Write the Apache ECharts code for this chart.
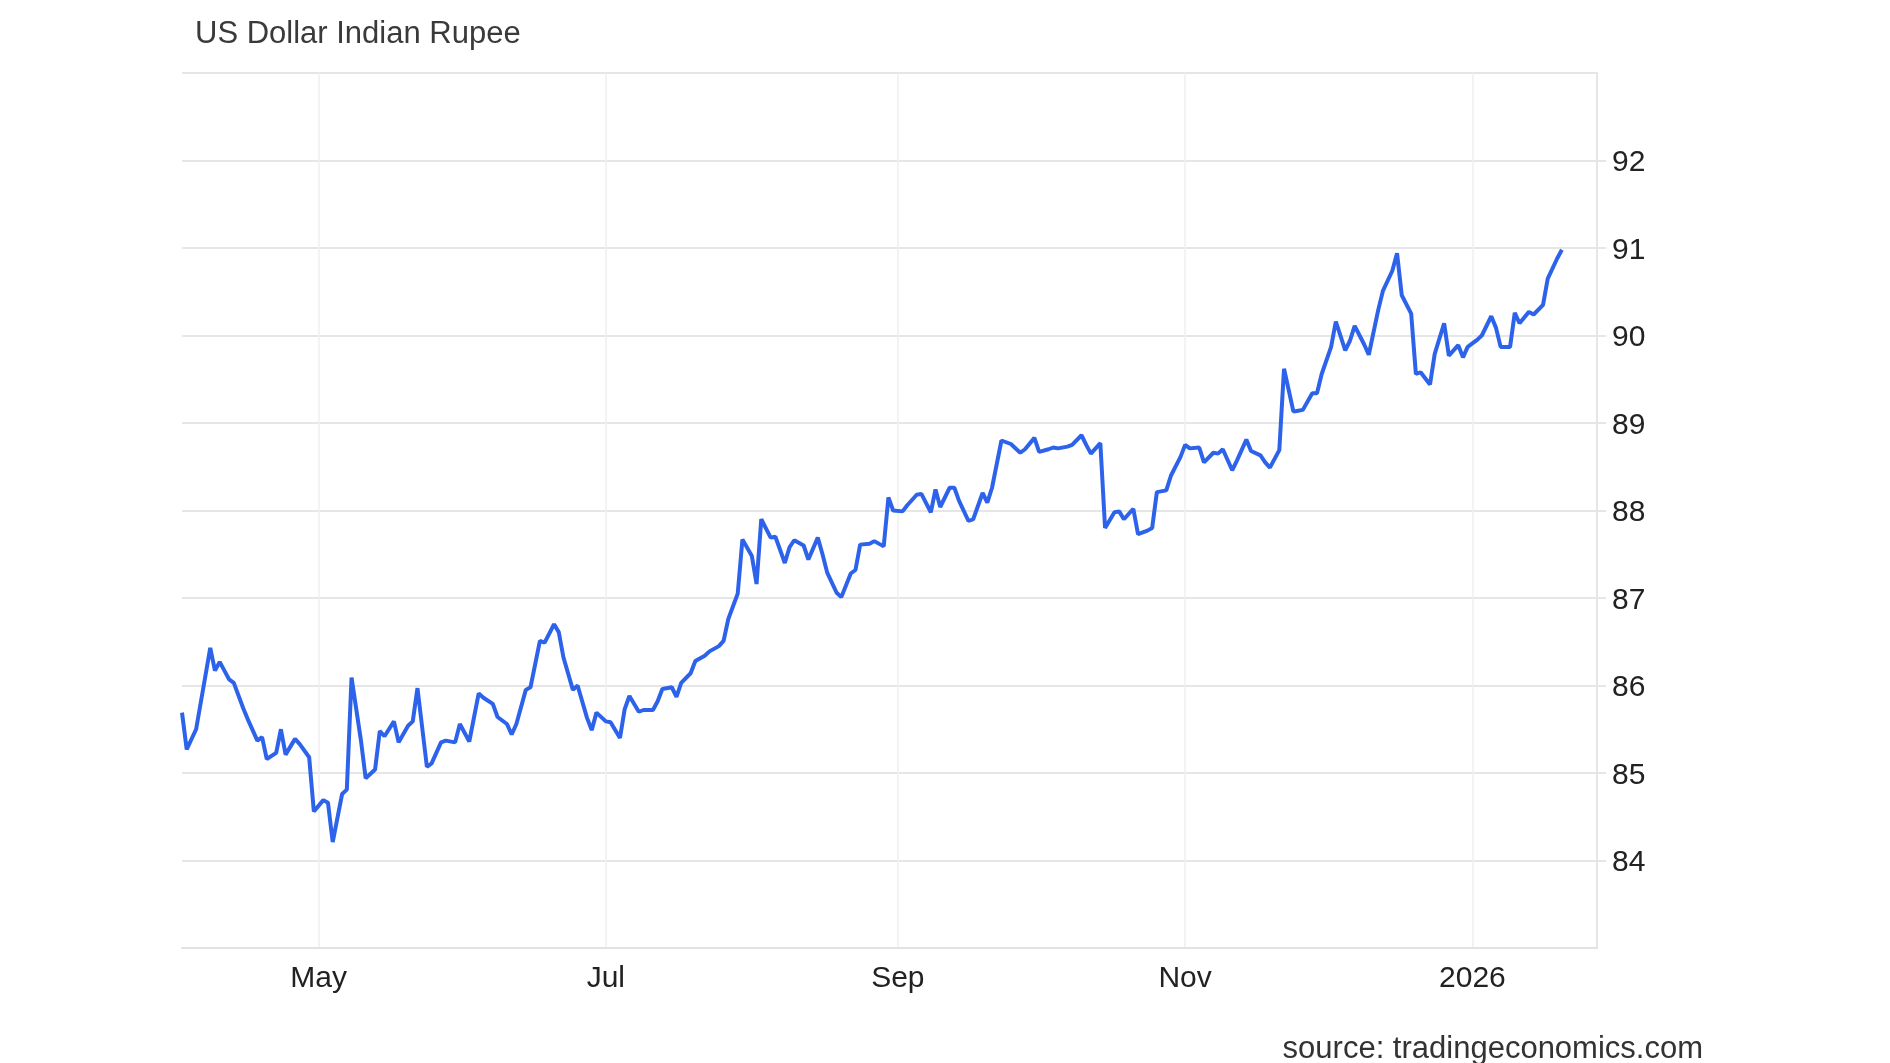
<!DOCTYPE html>
<html>
<head>
<meta charset="utf-8">
<style>
  html, body { margin: 0; padding: 0; background: #ffffff; }
  #chart { width: 1890px; height: 1063px; }
</style>
<script src="https://cdn.jsdelivr.net/npm/echarts@6/dist/echarts.min.js"></script>
</head>
<body>
<div id="chart"></div>
<script>
const titleText = 'US Dollar Indian Rupee';
const sourceText = 'source: tradingeconomics.com';

const dates = [
'2025-04-02','2025-04-03','2025-04-05','2025-04-08','2025-04-09','2025-04-10','2025-04-12','2025-04-13','2025-04-15','2025-04-16','2025-04-18','2025-04-19','2025-04-20','2025-04-22','2025-04-23','2025-04-24','2025-04-26','2025-04-27','2025-04-29','2025-04-30',
'2025-05-02','2025-05-03','2025-05-04','2025-05-06','2025-05-07','2025-05-08','2025-05-10','2025-05-11','2025-05-13','2025-05-14','2025-05-15','2025-05-17','2025-05-18','2025-05-20','2025-05-21','2025-05-22','2025-05-24','2025-05-25','2025-05-27','2025-05-28','2025-05-30','2025-05-31',
'2025-06-02','2025-06-04','2025-06-05','2025-06-07','2025-06-08','2025-06-10','2025-06-11','2025-06-12','2025-06-14','2025-06-15','2025-06-17','2025-06-18','2025-06-20','2025-06-21','2025-06-22','2025-06-24','2025-06-25','2025-06-27','2025-06-28','2025-06-29',
'2025-07-01','2025-07-02','2025-07-04','2025-07-05','2025-07-06','2025-07-08','2025-07-09','2025-07-11','2025-07-12','2025-07-13','2025-07-15','2025-07-16','2025-07-17','2025-07-19','2025-07-20','2025-07-22','2025-07-23','2025-07-25','2025-07-26','2025-07-27','2025-07-29','2025-07-30',
'2025-08-01','2025-08-02','2025-08-03','2025-08-05','2025-08-06','2025-08-08','2025-08-09','2025-08-10','2025-08-12','2025-08-13','2025-08-15','2025-08-16','2025-08-17','2025-08-19','2025-08-20','2025-08-22','2025-08-23','2025-08-24','2025-08-26','2025-08-27','2025-08-29','2025-08-30','2025-08-31',
'2025-09-02','2025-09-03','2025-09-05','2025-09-06','2025-09-08','2025-09-09','2025-09-10','2025-09-12','2025-09-13','2025-09-14','2025-09-16','2025-09-17','2025-09-19','2025-09-20','2025-09-21','2025-09-23','2025-09-25','2025-09-27','2025-09-28','2025-09-30',
'2025-10-01','2025-10-03','2025-10-04','2025-10-05','2025-10-07','2025-10-08','2025-10-10','2025-10-11','2025-10-12','2025-10-14','2025-10-15','2025-10-17','2025-10-18','2025-10-19','2025-10-21','2025-10-22','2025-10-24','2025-10-25','2025-10-26','2025-10-28','2025-10-29','2025-10-31',
'2025-11-01','2025-11-02','2025-11-04','2025-11-05','2025-11-07','2025-11-08','2025-11-09','2025-11-11','2025-11-12','2025-11-14','2025-11-15','2025-11-17','2025-11-18','2025-11-19','2025-11-21','2025-11-22','2025-11-24','2025-11-25','2025-11-26','2025-11-28','2025-11-29','2025-11-30',
'2025-12-02','2025-12-03','2025-12-05','2025-12-06','2025-12-07','2025-12-09','2025-12-10','2025-12-12','2025-12-13','2025-12-15','2025-12-16','2025-12-17','2025-12-19','2025-12-20','2025-12-21','2025-12-23','2025-12-24','2025-12-26','2025-12-27','2025-12-29','2025-12-30','2025-12-31',
'2026-01-02','2026-01-03','2026-01-05','2026-01-06','2026-01-07','2026-01-09','2026-01-10','2026-01-11','2026-01-13','2026-01-14','2026-01-16','2026-01-17','2026-01-19','2026-01-20'
];

const usdInr = [
85.69, 85.27, 85.50, 86.43, 86.17, 86.27, 86.07, 86.03, 85.74, 85.61, 85.37, 85.41, 85.16, 85.23, 85.50, 85.21, 85.39, 85.33, 85.18, 84.56,
84.69, 84.66, 84.21, 84.76, 84.81, 86.09, 85.37, 84.94, 85.04, 85.48, 85.42, 85.59, 85.35, 85.54, 85.59, 85.97, 85.07, 85.11, 85.35, 85.37, 85.35, 85.56,
85.36, 85.91, 85.86, 85.79, 85.64, 85.56, 85.44, 85.56, 85.95, 85.98, 86.51, 86.49, 86.70, 86.61, 86.32, 85.95, 86.00, 85.63, 85.49, 85.69,
85.59, 85.58, 85.40, 85.73, 85.88, 85.70, 85.72, 85.72, 85.82, 85.96, 85.98, 85.87, 86.03, 86.14, 86.28, 86.34, 86.39, 86.45, 86.51, 86.76, 87.05, 87.67,
87.48, 87.16, 87.90, 87.69, 87.70, 87.40, 87.58, 87.66, 87.60, 87.44, 87.69, 87.50, 87.29, 87.06, 87.01, 87.28, 87.32, 87.61, 87.62, 87.65, 87.59, 88.15, 88.00,
87.99, 88.06, 88.18, 88.19, 87.98, 88.24, 88.04, 88.26, 88.26, 88.11, 87.88, 87.90, 88.20, 88.09, 88.26, 88.80, 88.76, 88.66, 88.70, 88.83,
88.67, 88.70, 88.72, 88.71, 88.73, 88.75, 88.86, 88.75, 88.65, 88.77, 87.80, 87.98, 87.99, 87.90, 88.02, 87.73, 87.77, 87.80, 88.21, 88.23, 88.40, 88.61,
88.75, 88.71, 88.72, 88.55, 88.66, 88.65, 88.70, 88.46, 88.57, 88.81, 88.68, 88.63, 88.55, 88.49, 88.69, 89.62, 89.13, 89.14, 89.15, 89.34, 89.34, 89.56,
89.87, 90.16, 89.83, 89.94, 90.11, 89.90, 89.78, 90.29, 90.51, 90.74, 90.94, 90.46, 90.25, 89.56, 89.58, 89.44, 89.79, 90.14, 89.77, 89.89, 89.75, 89.87,
89.95, 90.00, 90.22, 90.09, 89.87, 89.87, 90.26, 90.14, 90.27, 90.24, 90.35, 90.65, 90.88, 90.98
];

const xTickDates = ['2025-05-01', '2025-07-01', '2025-09-01', '2025-11-01', '2026-01-01'];
const xTickLabels = ['May', 'Jul', 'Sep', 'Nov', '2026'];
const xRange = ['2025-04-02T00:00', '2026-01-27T11:00'];
const yMin = 83, yMax = 93, yStep = 1;

function toTime(s) {
  return Date.parse(s.length === 10 ? s + 'T00:00:00Z' : s + ':00Z');
}
const tickTimes = xTickDates.map(toTime);

const chart = echarts.init(document.getElementById('chart'), null, { renderer: 'canvas' });
const font = "'Liberation Sans', Arial, Helvetica, sans-serif";

chart.setOption({
  backgroundColor: '#ffffff',
  animation: false,
  textStyle: { fontFamily: font },
  title: [
    {
      text: titleText,
      left: 190,
      top: 14,
      textStyle: { fontFamily: font, fontSize: 31, fontWeight: 'normal', color: '#3a3a3a' }
    },
    {
      text: sourceText,
      right: 182,
      top: 1029,
      textStyle: { fontFamily: font, fontSize: 31, fontWeight: 'normal', color: '#333333' }
    }
  ],
  grid: { left: 182, right: 293, top: 73, bottom: 115, containLabel: false },
  xAxis: {
    type: 'value',
    min: toTime(xRange[0]),
    max: toTime(xRange[1]),
    axisLine: { show: true, lineStyle: { color: '#e2e2e2', width: 2 } },
    axisTick: { show: false, customValues: tickTimes },
    splitLine: { show: true, lineStyle: { color: '#efefef', width: 1.5 } },
    axisLabel: {
      customValues: tickTimes,
      margin: 16,
      fontSize: 30,
      color: '#222222',
      fontFamily: font,
      formatter: function (val) {
        let best = 0, bd = Infinity;
        tickTimes.forEach(function (t, i) { const d = Math.abs(t - val); if (d < bd) { bd = d; best = i; } });
        return xTickLabels[best];
      }
    }
  },
  yAxis: {
    type: 'value',
    position: 'right',
    min: yMin,
    max: yMax,
    interval: yStep,
    axisLine: { show: true, lineStyle: { color: '#e6e6e6', width: 2 } },
    axisTick: { show: true, length: 9, lineStyle: { color: '#e6e6e6', width: 2 } },
    splitLine: { show: true, lineStyle: { color: '#e6e6e6', width: 2 } },
    axisLabel: {
      margin: 15,
      color: '#222222',
      showMinLabel: false,
      showMaxLabel: false,
      formatter: function (v) { return '{n|' + v + '}'; },
      rich: {
        n: { fontSize: 30, fontFamily: font, color: '#222222', padding: [5, 0, 0, 0] }
      }
    }
  },
  series: [{
    type: 'line',
    data: dates.map(function (d, i) { return [toTime(d), usdInr[i]]; }),
    showSymbol: false,
    smooth: false,
    lineStyle: { color: '#2d62eb', width: 4 },
    itemStyle: { color: '#2d62eb' }
  }]
});
</script>
</body>
</html>
